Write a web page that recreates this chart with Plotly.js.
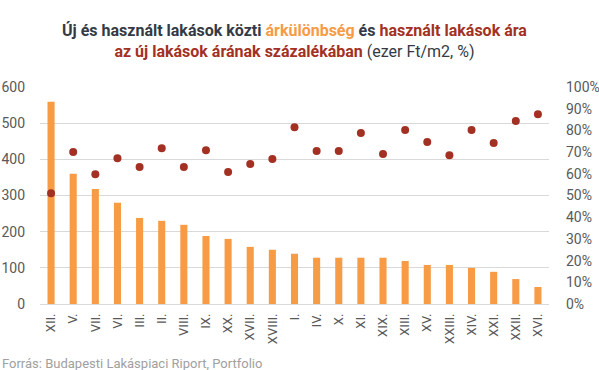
<!DOCTYPE html>
<html>
<head>
<meta charset="utf-8">
<script src="https://cdn.plot.ly/plotly-3.0.1.min.js"></script>
<style>html,body{margin:0;padding:0;background:#fff}#chart{width:599px;height:370px}</style>
</head>
<body>
<div id="chart"></div>
<script>
var categories = ["XII.","V.","VII.","VI.","III.","II.","VIII.","IX.","XX.","XVII.","XVIII.","I.","IV.","X.","XI.","XIX.","XIII.","XV.","XXIII.","XIV.","XXI.","XXII.","XVI."];
var priceGap = [559,360,318,280,238,230,219,188,180,158,150,139,128,128,128,128,119,108,108,100,89,69,47];
var usedPct = [0.51,0.70,0.598,0.672,0.631,0.718,0.631,0.709,0.608,0.645,0.668,0.815,0.705,0.705,0.788,0.691,0.802,0.746,0.686,0.802,0.742,0.843,0.875];
var leftTicks = [0,100,200,300,400,500,600];
var rightTicks = [0,0.1,0.2,0.3,0.4,0.5,0.6,0.7,0.8,0.9,1.0];
var rightTickLabels = ["0%","10%","20%","30%","40%","50%","60%","70%","80%","90%","100%"];

var font = "Roboto, 'Open Sans', sans-serif";
var traces = [
  {type:"bar", x:categories, y:priceGap, marker:{color:"#f79b45"}, name:"árkülönbség"},
  {type:"scatter", mode:"markers", x:categories, y:usedPct, yaxis:"y2", marker:{color:"#a33123", size:8}, name:"arány"}
];
var layout = {
  width:599, height:370,
  margin:{l:40, r:50, t:87, b:66, autoexpand:false},
  paper_bgcolor:"#fff", plot_bgcolor:"#fff",
  showlegend:false,
  bargap:0.68,
  font:{family:font, color:"#595959", size:14},
  xaxis:{type:"category", range:[-0.5, categories.length - 0.5], tickmode:"array", tickvals:categories, ticktext:categories, tickangle:-90, tickfont:{size:13, color:"#595959"}, showgrid:false, showline:false, ticks:"", ticklabelstandoff:6, automargin:false, fixedrange:true},
  yaxis:{range:[0,600], tickmode:"array", tickvals:leftTicks, ticktext:leftTicks.map(String), gridcolor:"#d9d9d9", gridwidth:1, zeroline:true, zerolinecolor:"#d9d9d9", showline:false, ticks:"", tickfont:{size:14, color:"#595959"}, ticklabelstandoff:14, automargin:false},
  yaxis2:{range:[0,1], overlaying:"y", side:"right", tickmode:"array", tickvals:rightTicks, ticktext:rightTickLabels, showgrid:false, zeroline:false, showline:false, ticks:"", tickfont:{size:14, color:"#595959"}, ticklabelstandoff:16, automargin:false},
  annotations:[
    {xref:"paper", yref:"paper", x:0.5, y:1.0, xanchor:"center", yanchor:"bottom", yshift:24, showarrow:false, align:"center",
     text:"<b><span style='color:#333a45'>Új és használt lakások közti </span><span style='color:#f79b45'>árkülönbség</span><span style='color:#333a45'> és </span><span style='color:#a33123'>használt lakások ára</span></b><br><b><span style='color:#a33123'>az új lakások árának százalékában</span></b><span style='color:#333a45'> (ezer Ft/m2, %)</span>",
     font:{family:font, size:16, color:"#333a45"}},
    {xref:"paper", yref:"paper", x:-40/509, y:0, xanchor:"left", yanchor:"top", yshift:-50, showarrow:false,
     text:"Forrás: Budapesti Lakáspiaci Riport, Portfolio", font:{family:font, size:13, color:"#a0a0a0"}}
  ]
};
Plotly.newPlot("chart", traces, layout, {displayModeBar:false, staticPlot:true});
</script>
</body>
</html>
